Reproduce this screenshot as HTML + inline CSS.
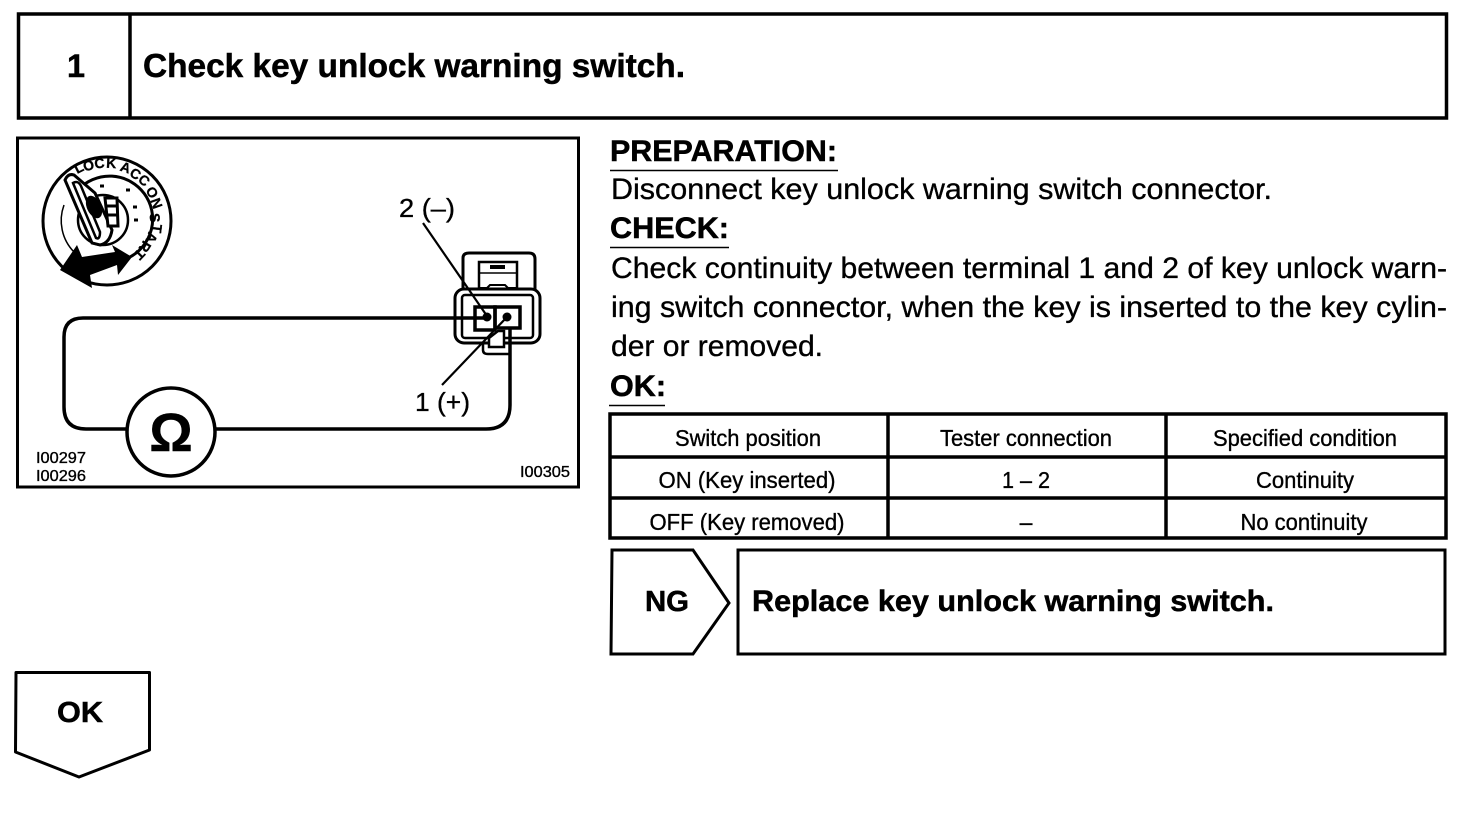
<!DOCTYPE html>
<html><head><meta charset="utf-8"><style>
html,body{margin:0;padding:0;background:#fff}
svg{display:block}
text{font-family:"Liberation Sans",Arial,sans-serif;fill:#000;stroke:#000;stroke-width:.35}
.b{font-weight:bold;stroke-width:.5}
.l{stroke:#000;fill:none}
.r{font-size:14px;font-weight:bold;text-anchor:middle;stroke-width:.3}
</style></head><body>
<svg width="1472" height="824" viewBox="0 0 1472 824" xmlns="http://www.w3.org/2000/svg">
<rect width="1472" height="824" fill="#fff"/>
<!-- header -->
<rect class="l" stroke-width="3.5" x="18.5" y="14" width="1428" height="104"/>
<line class="l" stroke-width="3.5" x1="130" y1="14" x2="130" y2="118"/>
<text class="b" x="67" y="77" font-size="32" textLength="18" lengthAdjust="spacingAndGlyphs">1</text>
<text class="b" x="143" y="77" font-size="33" textLength="542" lengthAdjust="spacingAndGlyphs">Check key unlock warning switch.</text>
<!-- figure -->
<rect class="l" stroke-width="3" x="17.5" y="138" width="561" height="349"/>
<!-- key cylinder -->
<g>
<circle class="l" stroke-width="3" cx="107" cy="221" r="64"/>
<path class="l" stroke-width="3" d="M78 190 A43 43 0 1 1 128 258"/>
<path class="l" stroke-width="1.500" d="M64 205 A45 45 0 0 0 74 252"/>
<circle class="l" stroke-width="2.500" cx="103" cy="220" r="25"/>
<text class="r" transform="translate(81,172) rotate(-27)">L</text>
<text class="r" transform="translate(90,170) rotate(-17)">O</text>
<text class="r" transform="translate(100,168) rotate(-7)">C</text>
<text class="r" transform="translate(111,168) rotate(3)">K</text>
<text class="r" transform="translate(124,172) rotate(19)">A</text>
<text class="r" transform="translate(133,178) rotate(31)">C</text>
<text class="r" transform="translate(141,184) rotate(41)">C</text>
<text class="r" transform="translate(148,195) rotate(58)">O</text>
<text class="r" transform="translate(152,205) rotate(70)">N</text>
<text class="r" transform="translate(150,218) rotate(87)">S</text>
<text class="r" transform="translate(152,228) rotate(97)">T</text>
<text class="r" transform="translate(147,236) rotate(110)">A</text>
<text class="r" transform="translate(141,244) rotate(122)">R</text>
<text class="r" transform="translate(136,251) rotate(134)">T</text>
<!-- key -->
<path d="M65 180 Q68 173 74 175 L95 193 L112 230 Q110 243 100 245 L92 243 Z" fill="#fff" stroke="#000" stroke-width="3"/>
<path d="M73 183 Q78 180 81 186 L100 232 Q100 240 96 238 Z" fill="#fff" stroke="#000" stroke-width="2.500"/>
<ellipse cx="94" cy="207" rx="7" ry="12" transform="rotate(-25 94 207)" fill="#000"/>
<path d="M105 198 h12 l1 28 h-10 z" fill="#fff" stroke="#000" stroke-width="3"/>
<path d="M105 206 h12 M106 215 h12" stroke="#000" stroke-width="3"/>
<path d="M126 190l4 0M133 207l4 0M134 220l4 0M100 186l4 0" stroke="#000" stroke-width="3"/>
<!-- arrow -->
<path d="M60 270 L77 245 L82 257 L115 252 L112 245 L132 257 L118 275 L117 265 L90 275 L92 288 Z" fill="#000"/>
</g>
<!-- connector -->
<g class="l">
<path d="M463 288 V258 Q463 253 469 253 H529 Q535 253 535 259 V290" stroke-width="3"/>
<path d="M479 288 V262 H517 V288" stroke-width="2.500"/>
<path d="M490 267 h15" stroke-width="4"/>
<path d="M480 273 H516" stroke-width="1.500"/>
<path d="M480 288 H487 L490 285 H505 L508 288 H517" stroke-width="2"/>
<rect x="455" y="289" width="85" height="54" rx="9" fill="#fff" stroke-width="3"/>
<rect x="462" y="295" width="71" height="43" rx="3" stroke-width="2.500"/>
<rect x="475" y="307" width="20" height="23" stroke-width="3.500"/>
<rect x="495" y="307" width="25" height="21" stroke-width="3.500"/>
<path d="M483 344 V350 Q483 354 488 354 H510 V344" stroke-width="2.500"/>
<path d="M489 347 V338 L498 331 H504 V347 Z" fill="#fff" stroke-width="2.500"/>
</g>
<circle cx="487" cy="317" r="4.500" fill="#000"/>
<circle cx="507" cy="317" r="4.500" fill="#000"/>
<!-- leads -->
<line class="l" stroke-width="2.200" x1="423" y1="223" x2="487" y2="316"/>
<line class="l" stroke-width="2.200" x1="442" y1="385" x2="507" y2="317"/>
<path class="l" stroke-width="3.500" d="M487 318 H83 Q64 318 64 337 V407 Q64 429 86 429 H128"/>
<path class="l" stroke-width="3.500" d="M510 328 V405 Q510 429 486 429 H214"/>
<circle class="l" stroke-width="3.500" cx="171" cy="432" r="44"/>
<text class="b" x="171" y="451" font-size="54" text-anchor="middle">Ω</text>
<text x="399" y="217" font-size="26" textLength="56" lengthAdjust="spacingAndGlyphs">2 (–)</text>
<text x="415" y="411" font-size="26" textLength="55" lengthAdjust="spacingAndGlyphs">1 (+)</text>
<text x="36" y="463" font-size="15.500" textLength="50" lengthAdjust="spacingAndGlyphs">I00297</text>
<text x="36" y="481" font-size="15.500" textLength="50" lengthAdjust="spacingAndGlyphs">I00296</text>
<text x="520" y="477" font-size="15.500" textLength="50" lengthAdjust="spacingAndGlyphs">I00305</text>
<!-- text block -->
<text class="b" x="610" y="161" font-size="30" textLength="227" lengthAdjust="spacingAndGlyphs">PREPARATION:</text>
<line class="l" stroke-width="1.500" x1="610" y1="170.500" x2="838" y2="170.500"/>
<text x="611" y="199" font-size="30" textLength="661" lengthAdjust="spacingAndGlyphs">Disconnect key unlock warning switch connector.</text>
<text class="b" x="610" y="238" font-size="30" textLength="119" lengthAdjust="spacingAndGlyphs">CHECK:</text>
<line class="l" stroke-width="1.500" x1="610" y1="247.500" x2="729" y2="247.500"/>
<text x="611" y="278" font-size="30" textLength="836" lengthAdjust="spacingAndGlyphs">Check continuity between terminal 1 and 2 of key unlock warn-</text>
<text x="611" y="317" font-size="30" textLength="836" lengthAdjust="spacingAndGlyphs">ing switch connector, when the key is inserted to the key cylin-</text>
<text x="611" y="356" font-size="30" textLength="212" lengthAdjust="spacingAndGlyphs">der or removed.</text>
<text class="b" x="610" y="396" font-size="30" textLength="56" lengthAdjust="spacingAndGlyphs">OK:</text>
<line class="l" stroke-width="1.500" x1="609" y1="405.500" x2="665" y2="405.500"/>
<!-- table -->
<rect class="l" stroke-width="3.500" x="610" y="414" width="836" height="124"/>
<path class="l" stroke-width="3.500" d="M610 457 H1446 M610 498 H1446 M888 414 V538 M1166 414 V538"/>
<g font-size="23" text-anchor="middle">
<text x="748" y="446" textLength="146" lengthAdjust="spacingAndGlyphs">Switch position</text>
<text x="1026" y="446" textLength="172" lengthAdjust="spacingAndGlyphs">Tester connection</text>
<text x="1305" y="446" textLength="184" lengthAdjust="spacingAndGlyphs">Specified condition</text>
<text x="747" y="488" textLength="177" lengthAdjust="spacingAndGlyphs">ON (Key inserted)</text>
<text x="1026" y="488" textLength="48" lengthAdjust="spacingAndGlyphs">1 – 2</text>
<text x="1305" y="488" textLength="98" lengthAdjust="spacingAndGlyphs">Continuity</text>
<text x="747" y="530" textLength="195" lengthAdjust="spacingAndGlyphs">OFF (Key removed)</text>
<text x="1026" y="530">–</text>
<text x="1304" y="530" textLength="127" lengthAdjust="spacingAndGlyphs">No continuity</text>
</g>
<!-- NG -->
<path class="l" stroke-width="3" d="M612 550 H693 L729 603 L693 654 H611 Z"/>
<rect class="l" stroke-width="3" x="738" y="550" width="707" height="104"/>
<text class="b" x="645" y="611" font-size="29" textLength="44" lengthAdjust="spacingAndGlyphs">NG</text>
<text class="b" x="752" y="611" font-size="30" textLength="522" lengthAdjust="spacingAndGlyphs">Replace key unlock warning switch.</text>
<!-- OK -->
<path class="l" stroke-width="3" stroke-linejoin="round" d="M16 672.500 H149.500 V750 L79 777 L15.500 752 Z"/>
<text class="b" x="57" y="722" font-size="29" textLength="46" lengthAdjust="spacingAndGlyphs">OK</text>
</svg>
</body></html>
